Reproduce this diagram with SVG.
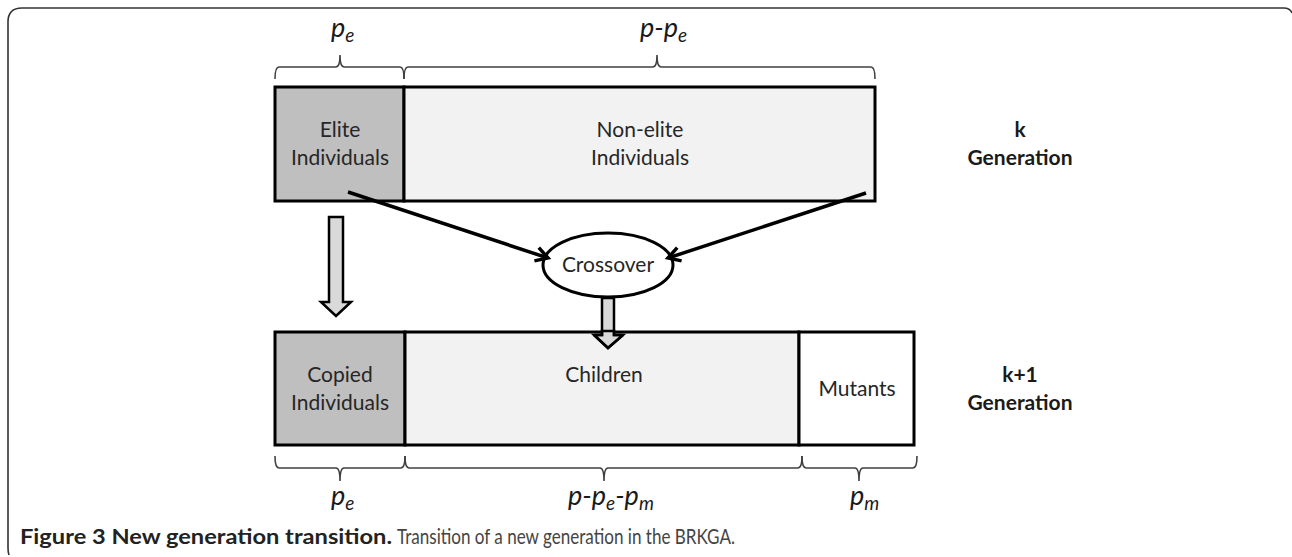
<svg xmlns="http://www.w3.org/2000/svg" width="1292" height="557" viewBox="0 0 1292 557">
<defs>
<style>
.t{font-family:Lato,"Open Sans",sans-serif;font-size:21px;fill:#262626;text-anchor:middle}
.b{font-family:Lato,"Open Sans",sans-serif;font-size:21px;font-weight:bold;fill:#1a1a1a;text-anchor:middle}
.m{font-family:Lato,"Open Sans",sans-serif;font-size:27px;font-style:italic;fill:#1a1a1a}
.brace{fill:none;stroke:#404040;stroke-width:1.6}
.box{stroke:#000;stroke-width:3}
.blk{fill:#d9d9d9;stroke:#000;stroke-width:2.5;stroke-linejoin:miter}
.conn{stroke:#000;stroke-width:3.5;fill:none}
</style>
<marker id="ah" markerWidth="18" markerHeight="18" refX="14" refY="9" orient="auto" markerUnits="userSpaceOnUse" viewBox="0 0 18 18">
<path d="M2,2 L14,9 L2,16" fill="none" stroke="#000" stroke-width="3.5"/>
</marker>
</defs>
<rect width="1292" height="557" fill="#fff"/>
<path d="M9,555 Q8,552 8,548 L8,22 Q8,8 22,8 L1284,8 Q1290,8 1292,13" fill="none" stroke="#333" stroke-width="1.6"/>

<g id="braces-top">
<path class="brace" d="M275,79 Q275,67 279,67 L336,67 Q340,67 340,55 Q340,67 344,67 L400,67 Q404,67 404,79"/>
<path class="brace" d="M404,79 Q404,67 408,67 L653,67 Q657,67 657,55 Q657,67 661,67 L871,67 Q875,67 875,79"/>
<text class="m" x="331" y="37">p<tspan font-size="19" dy="5">e</tspan></text>
<text class="m" x="640" y="37">p-p<tspan font-size="19" dy="5">e</tspan></text>
</g>

<g id="elite">
<rect class="box" x="275" y="87" width="129" height="114" fill="#bfbfbf"/>
<text class="t" x="340" y="137">Elite</text>
<text class="t" x="340" y="165">Individuals</text>
</g>
<g id="nonelite">
<rect class="box" x="404" y="87" width="471" height="114" fill="#f2f2f2"/>
<text class="t" x="640" y="137">Non-elite</text>
<text class="t" x="640" y="165">Individuals</text>
</g>
<g id="gen-k">
<text class="b" x="1020" y="137">k</text>
<text class="b" x="1020" y="165">Generation</text>
</g>

<g id="crossover">
<ellipse cx="608" cy="265" rx="65" ry="32" fill="#fff" stroke="#000" stroke-width="3"/>
<text class="t" x="608" y="272">Crossover</text>
</g>

<g id="connectors">
<line class="conn" x1="348" y1="192" x2="548" y2="258" marker-end="url(#ah)"/>
<line class="conn" x1="866" y1="193" x2="668" y2="258" marker-end="url(#ah)"/>
<path class="blk" d="M329,217 L343,217 L343,302 L351,302 L336,316 L321,302 L329,302 Z"/>
<path class="blk" d="M602,298 L614,298 L614,335 L623,335 L608,348 L594,335 L602,335 Z"/>
</g>

<g id="copied">
<rect class="box" x="275" y="332" width="130" height="113" fill="#bfbfbf"/>
<text class="t" x="340" y="382">Copied</text>
<text class="t" x="340" y="410">Individuals</text>
</g>
<g id="children">
<rect class="box" x="405" y="332" width="394" height="113" fill="#f2f2f2"/>
<path class="blk" d="M602,331 L614,331 L614,335 L623,335 L608,348 L594,335 L602,335 Z" stroke="none"/>
<path d="M594,335 L608,348 L623,335" fill="none" stroke="#000" stroke-width="2.5"/>
<path d="M602,331 L602,335 L594,335 M614,331 L614,335 L623,335" fill="none" stroke="#000" stroke-width="2.5"/>
<text class="t" x="604" y="382">Children</text>
</g>
<g id="mutants">
<rect class="box" x="799" y="332" width="115" height="113" fill="#fff"/>
<text class="t" x="857" y="396">Mutants</text>
</g>
<g id="gen-k1">
<text class="b" x="1020" y="382">k+1</text>
<text class="b" x="1020" y="410">Generation</text>
</g>

<g id="braces-bottom">
<path class="brace" d="M275,456 Q275,468 279,468 L336,468 Q340,468 340,481 Q340,468 344,468 L401,468 Q405,468 405,456"/>
<path class="brace" d="M405,456 Q405,468 409,468 L600,468 Q604,468 604,481 Q604,468 608,468 L798,468 Q802,468 802,456"/>
<path class="brace" d="M802,456 Q802,468 806,468 L855,468 Q859,468 859,481 Q859,468 863,468 L913,468 Q917,468 917,456"/>
<text class="m" x="331" y="505">p<tspan font-size="19" dy="5">e</tspan></text>
<text class="m" x="568" y="505">p-p<tspan font-size="19" dy="5">e</tspan><tspan dy="-5">-p</tspan><tspan font-size="19" dy="5">m</tspan></text>
<text class="m" x="850" y="505">p<tspan font-size="19" dy="5">m</tspan></text>
</g>

<g id="caption">
<text x="20" y="544" font-family="Lato,'Open Sans',sans-serif" font-size="21" fill="#222"><tspan font-weight="bold" textLength="372" lengthAdjust="spacingAndGlyphs">Figure 3 New generation transition.</tspan><tspan fill="#444" dx="5" textLength="338" lengthAdjust="spacingAndGlyphs">Transition of a new generation in the BRKGA.</tspan></text>
</g>
</svg>
